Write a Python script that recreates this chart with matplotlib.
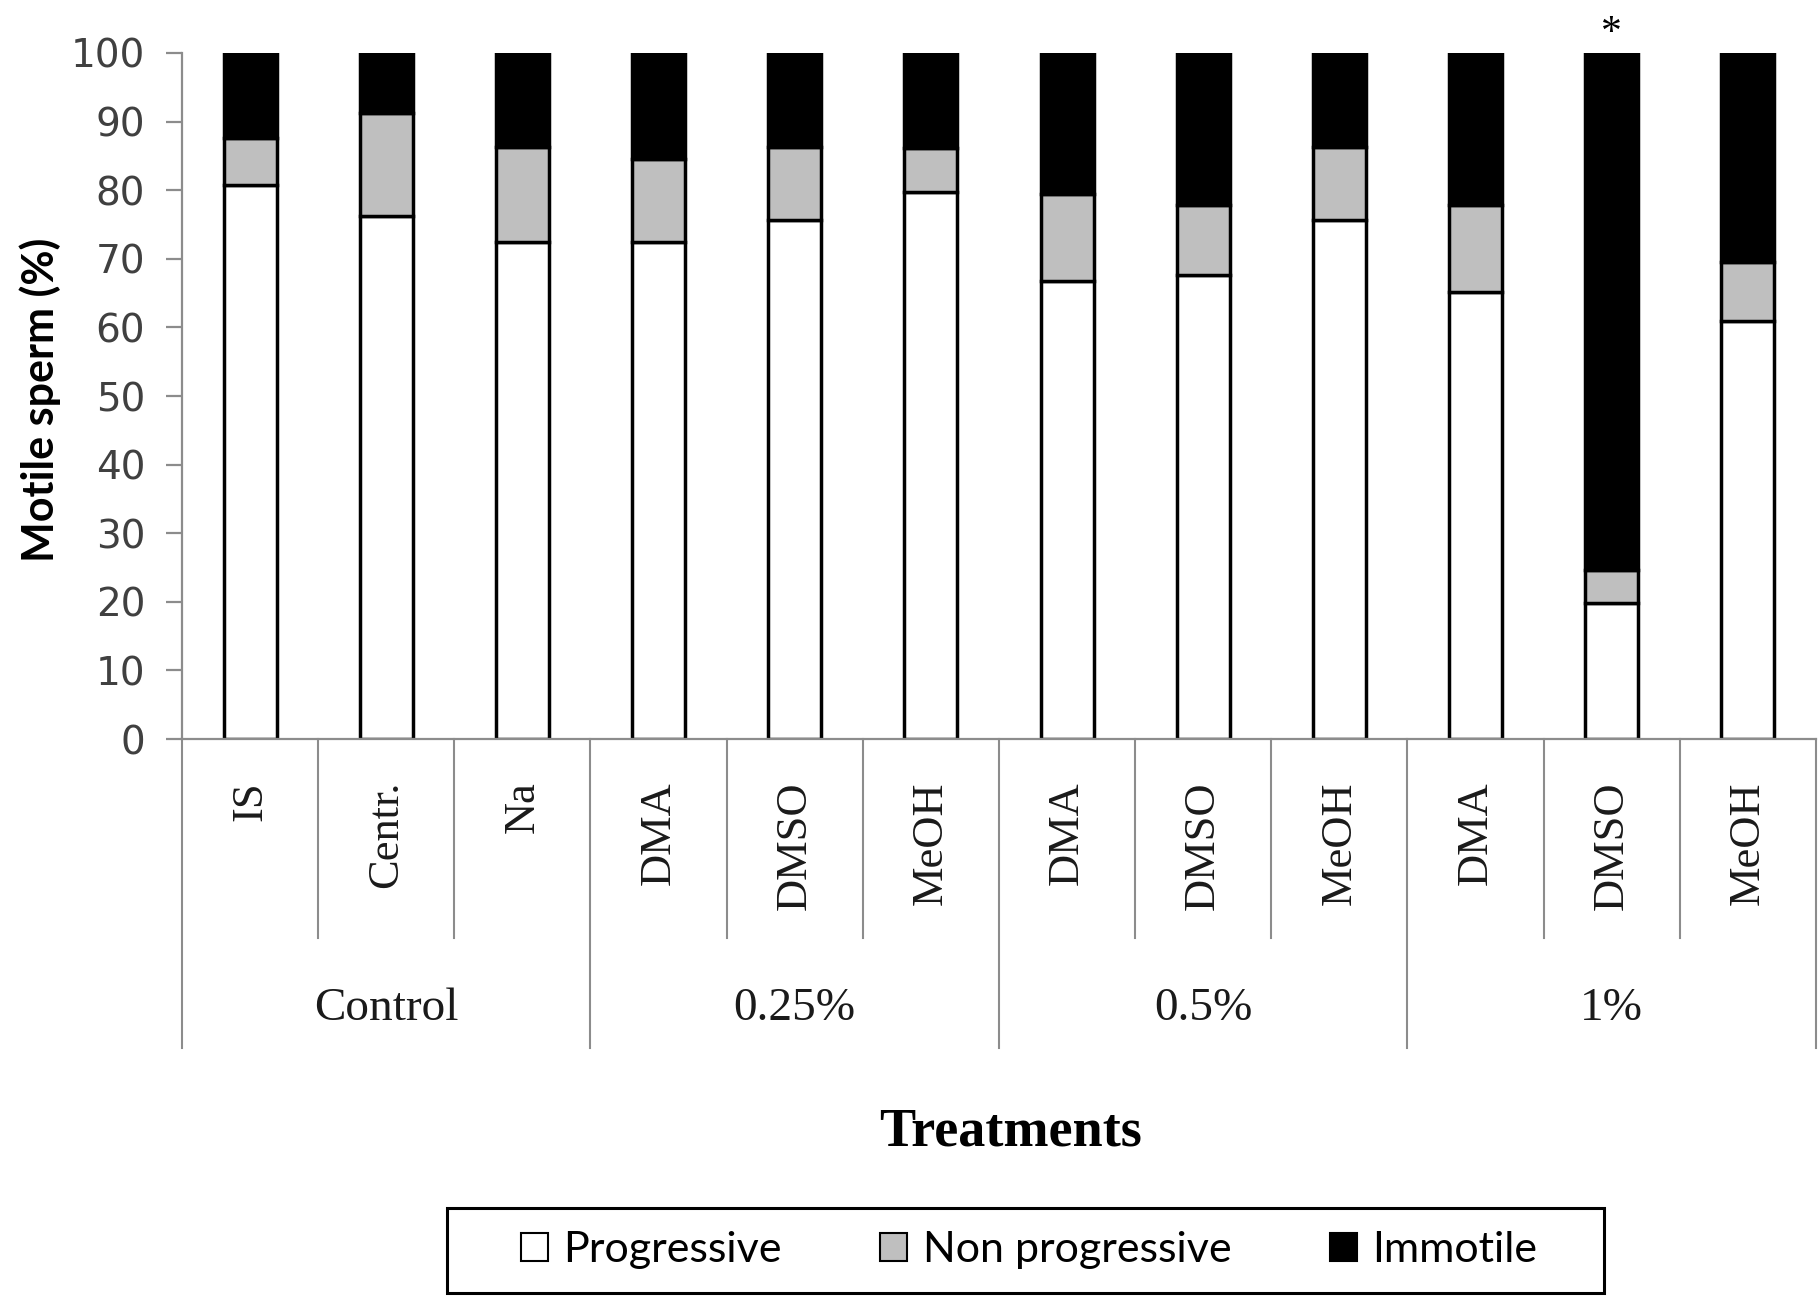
import matplotlib
matplotlib.use("Agg")
import matplotlib.pyplot as plt
from matplotlib.patches import Patch, Rectangle
import numpy as np

# data (% of sperm)
treatments = ["IS", "Centr.", "Na", "DMA", "DMSO", "MeOH",
              "DMA", "DMSO", "MeOH", "DMA", "DMSO", "MeOH"]
groups = ["Control", "0.25%", "0.5%", "1%"]
group_size = [3, 3, 3, 3]
progressive = [80.7, 76.3, 72.4, 72.4, 75.6, 79.8, 66.7, 67.7, 75.6, 65.1, 19.8, 61.0]
non_progressive = [6.9, 15.0, 13.9, 12.2, 10.7, 6.4, 12.7, 10.2, 10.7, 12.8, 4.9, 8.5]
immotile = [12.4, 8.7, 13.7, 15.4, 13.7, 13.8, 20.6, 22.1, 13.7, 22.1, 75.3, 30.5]
significant = [False] * 10 + [True, False]
yticks = list(range(0, 101, 10))

W, H = 1818, 1299
fig = plt.figure(figsize=(W / 100, H / 100), dpi=100)
ax = fig.add_axes([182 / W, 1 - 739 / H, (1816 - 182) / W, (739 - 53) / H])

x = np.arange(len(treatments))
prog = np.array(progressive)
nprog = np.array(non_progressive)
imm = np.array(immotile)
bw = 0.39
lw = 2.5
ax.bar(x, prog, bw, color="white", edgecolor="black", linewidth=lw, label="Progressive")
ax.bar(x, nprog, bw, bottom=prog, color="#bfbfbf", edgecolor="black", linewidth=lw,
       label="Non progressive")
ax.bar(x, imm, bw, bottom=prog + nprog, color="black", edgecolor="black", linewidth=lw,
       label="Immotile")

ax.set_xlim(-0.5, len(treatments) - 0.5)
ax.set_ylim(0, 100)
ax.set_yticks(yticks)
ax.set_xticks([])
for s in ["top", "right"]:
    ax.spines[s].set_visible(False)
for s in ["left", "bottom"]:
    ax.spines[s].set_color("#8c8c8c")
    ax.spines[s].set_linewidth(1.6)
ax.tick_params(axis="y", length=11.5, width=1.6, color="#8c8c8c", pad=15,
               labelsize=28, labelcolor="#404040")

# category separators and labels under the axis
trans = ax.get_xaxis_transform()
bounds = np.cumsum([0] + group_size)
inner_end = (739 - 938) / 686
group_end = (739 - 1048) / 686
for k in range(len(treatments) + 1):
    yend = group_end if k in bounds else inner_end
    ax.plot([k - 0.5, k - 0.5], [0, yend], transform=trans, color="#8c8c8c",
            lw=1.5, clip_on=False)
for i, t in enumerate(treatments):
    ax.text(i, (739 - 781) / 686, t, transform=trans, rotation=90, ha="center", va="top",
            fontsize=32, family="Liberation Serif", color="#1a1a1a")
for g, name in enumerate(groups):
    cx = (bounds[g] + bounds[g + 1] - 1) / 2
    ax.text(cx, (739 - 1020) / 686, name, transform=trans, ha="center", va="baseline",
            fontsize=34, family="Liberation Serif", color="#1a1a1a")

for i, s in enumerate(significant):
    if s:
        ax.text(i, 100, "*", ha="center", va="bottom", fontsize=30,
                family="Liberation Serif", clip_on=False)

fig.text(40 / W, 1 - 400 / H, "Motile sperm (%)", rotation=90, ha="center", va="center",
         fontsize=31, fontweight="bold", family="Lato")
fig.text(1011 / W, 1 - 1145 / H, "Treatments", ha="center", va="baseline",
         fontsize=39, fontweight="bold", family="Liberation Serif")

# legend with a plain rectangular box
handles = [Patch(facecolor="white", edgecolor="black", lw=1.5, label="Progressive"),
           Patch(facecolor="#bfbfbf", edgecolor="black", lw=1.5, label="Non progressive"),
           Patch(facecolor="black", edgecolor="black", lw=1.5, label="Immotile")]
fig.legend(handles=handles, loc="center", bbox_to_anchor=(1029 / W, 1 - 1250 / H),
           ncol=3, frameon=False, prop={"family": "Lato", "size": 31},
           handlelength=0.63, handleheight=0.63, handletextpad=0.35, columnspacing=2.3)
fig.patches.append(Rectangle((447 / W, 1 - 1293 / H), (1604 - 447) / W, (1293 - 1208) / H,
                             transform=fig.transFigure, fill=False, edgecolor="black",
                             lw=2.2))

fig.savefig("out.png", dpi=100, facecolor="white")
